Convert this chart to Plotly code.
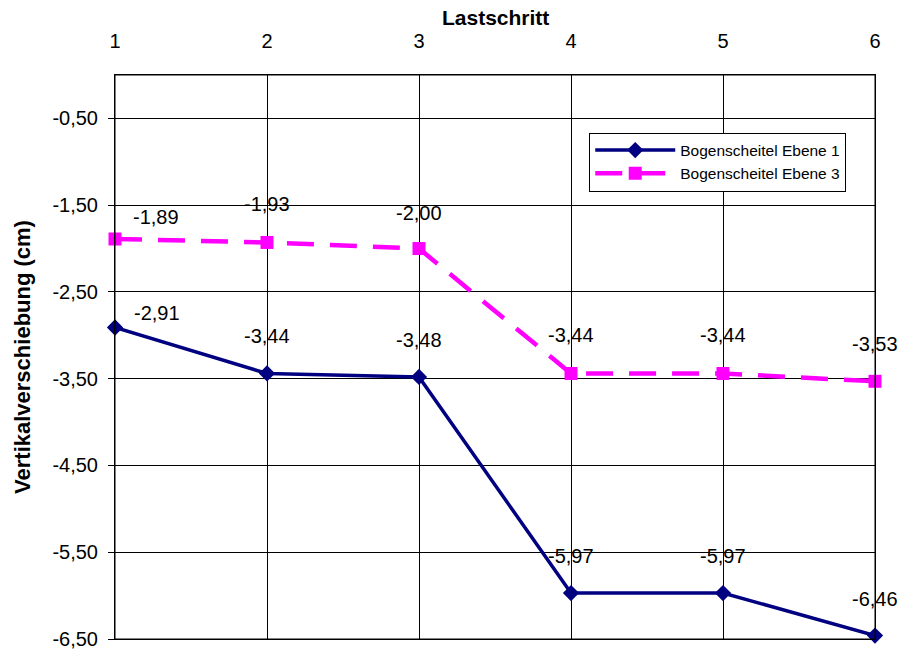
import plotly.graph_objects as go

# Load steps and vertical displacement at the arch crown (cm)
steps = [1, 2, 3, 4, 5, 6]
ebene1 = [-2.91, -3.44, -3.48, -5.97, -5.97, -6.46]
ebene3 = [-1.89, -1.93, -2.00, -3.44, -3.44, -3.53]
series_names = ["Bogenscheitel Ebene 1", "Bogenscheitel Ebene 3"]
y_ticks = [-0.5, -1.5, -2.5, -3.5, -4.5, -5.5, -6.5]
x_title = "Lastschritt"
y_title = "Vertikalverschiebung (cm)"

# label offsets in pixels (x, y) per point
off1 = [(42, 15), (0, 37), (0, 37), (0, 37), (0, 37), (0, 37)]
off3 = [(41, 22), (0, 38), (0, 36), (0, 38), (0, 38), (0, 37)]

NAVY = "#000080"
MAGENTA = "#FF00FF"
FONT = "Liberation Sans, Arial, sans-serif"


def fmt(v):
    # German decimal comma, plain hyphen as minus sign
    return f"{v:.2f}".replace(".", ",")


fig = go.Figure()
fig.add_trace(go.Scatter(
    x=steps, y=ebene1, name=series_names[0], mode="lines+markers",
    line=dict(color=NAVY, width=3.5),
    marker=dict(symbol="diamond", size=12.5, color=NAVY),
    cliponaxis=False,
))
fig.add_trace(go.Scatter(
    x=steps, y=ebene3, name=series_names[1], mode="lines+markers",
    line=dict(color=MAGENTA, width=4.5, dash="27px,16px"),
    marker=dict(symbol="square", size=13, color=MAGENTA),
    cliponaxis=False,
))

annotations = []
for xs, ys, offs in ((steps, ebene1, off1), (steps, ebene3, off3)):
    for xv, yv, (dx, dy) in zip(xs, ys, offs):
        annotations.append(dict(
            x=xv, y=yv, text=fmt(yv), showarrow=False,
            xshift=dx, yshift=dy,
            font=dict(family=FONT, size=20, color="black"),
        ))

# x-axis title above the top tick labels
annotations.append(dict(
    xref="paper", yref="paper", x=0.5, y=1.1028, xanchor="center", yanchor="middle",
    text=f"<b>{x_title}</b>", showarrow=False,
    font=dict(family=FONT, size=21, color="black"),
))

fig.update_layout(
    width=901, height=649,
    margin=dict(l=115, r=26, t=75, b=10, autoexpand=False),
    paper_bgcolor="white", plot_bgcolor="white",
    font=dict(family=FONT, color="black"),
    showlegend=True,
    legend=dict(
        x=0.624, y=0.898, xanchor="left", yanchor="top",
        bgcolor="white", bordercolor="black", borderwidth=1,
        font=dict(family=FONT, size=15.5, color="black"),
        tracegroupgap=0, itemwidth=80,
    ),
    annotations=annotations,
    # frame around the plot area
    shapes=[dict(type="rect", xref="paper", yref="paper", x0=0, x1=1, y0=0, y1=1,
                 line=dict(color="black", width=1), layer="above")],
)

fig.update_xaxes(
    side="top", range=[1, 6], tickvals=steps, ticktext=[str(s) for s in steps],
    showgrid=True, gridcolor="black", gridwidth=1,
    showline=True, linecolor="black", linewidth=1, mirror=True,
    ticks="", ticklabelstandoff=18, automargin=False,
    ticklabeloverflow="allow",
    tickfont=dict(family=FONT, size=20),
    zeroline=False,
)
fig.update_yaxes(
    range=[-6.5, 0], tickvals=y_ticks, ticktext=[fmt(v) for v in y_ticks],
    showgrid=True, gridcolor="black", gridwidth=1,
    showline=True, linecolor="black", linewidth=1, mirror=True,
    ticks="outside", ticklen=6, tickcolor="black", automargin=False,
    ticklabelstandoff=6, ticklabeloverflow="allow",
    tickfont=dict(family=FONT, size=20),
    title=dict(text=f"<b>{y_title}</b>", font=dict(family=FONT, size=22), standoff=15),
    zeroline=False,
)

fig.write_html("out.html")
